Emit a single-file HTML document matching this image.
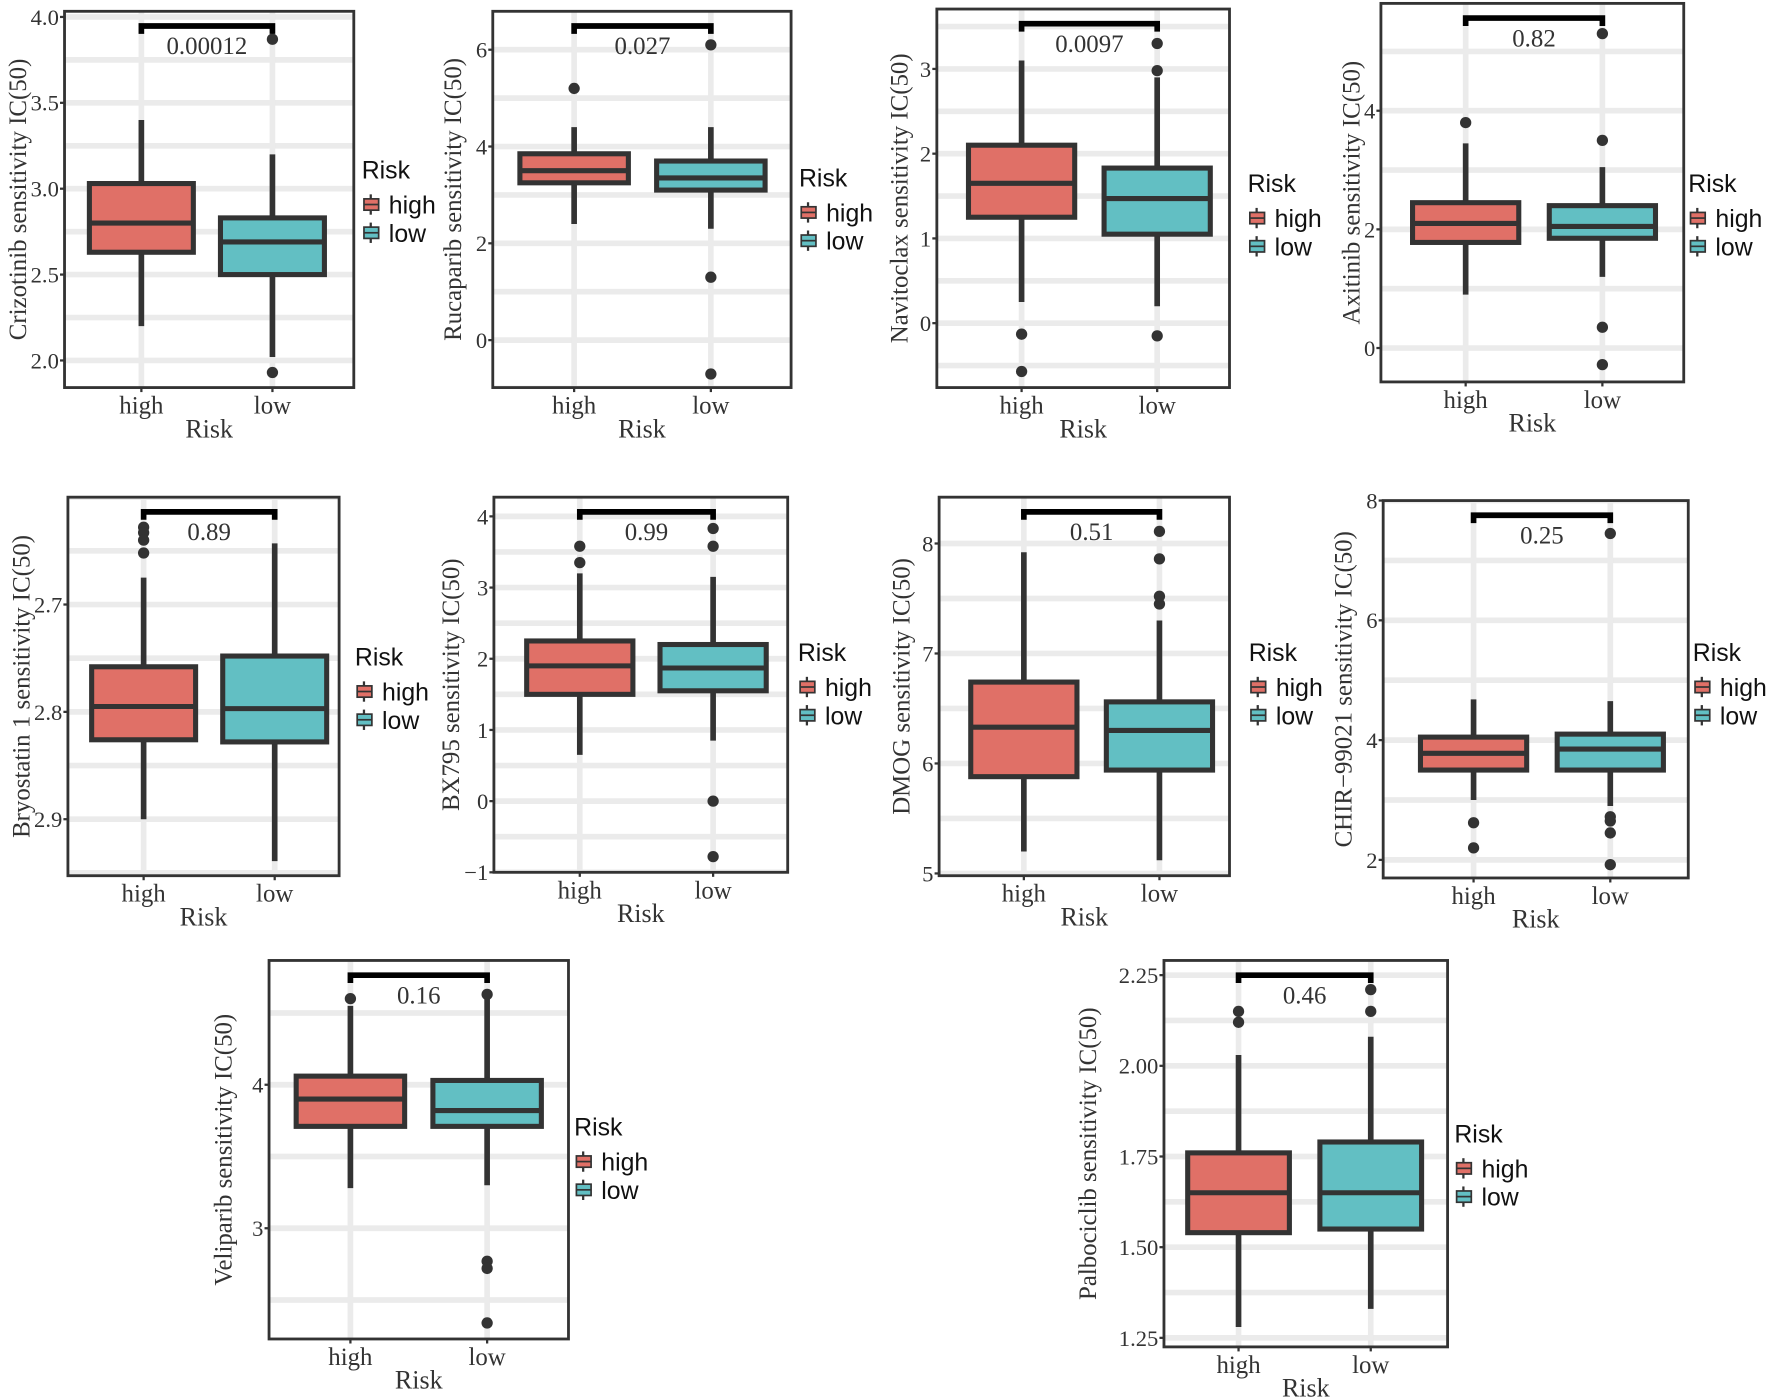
<!DOCTYPE html>
<html><head><meta charset="utf-8">
<style>
html,body{margin:0;padding:0;background:#fff;}
svg{display:block;}
.ax{font-family:"Liberation Serif",serif;fill:#333;}
.lg{font-family:"Liberation Sans",sans-serif;fill:#111;}
</style></head>
<body>
<svg id="fig" width="1772" height="1400" viewBox="0 0 1568 1239" xmlns="http://www.w3.org/2000/svg"></svg>
<script>
// ---- data (one small array set per panel) ----
const drugNames = ["Crizotinib","Rucaparib","Navitoclax","Axitinib","Bryostatin 1","BX795","DMOG","CHIR\u221299021","Veliparib","Palbociclib"];
const pValues = ["0.00012","0.027","0.0097","0.82","0.89","0.99","0.51","0.25","0.16","0.46"];
const groups = ["high","low"];
// [whiskerLow, q1, median, q3, whiskerHigh]
const highStats = [
 [2.2,2.63,2.8,3.03,3.4],
 [2.4,3.25,3.5,3.85,4.4],
 [0.25,1.25,1.65,2.1,3.1],
 [0.9,1.78,2.1,2.45,3.45],
 [2.675,2.758,2.795,2.826,2.9],
 [0.65,1.5,1.9,2.25,3.2],
 [5.2,5.88,6.33,6.74,7.92],
 [3.0,3.5,3.78,4.05,4.68],
 [3.28,3.71,3.9,4.06,4.55],
 [1.28,1.54,1.65,1.76,2.03]
];
const lowStats = [
 [2.02,2.5,2.69,2.83,3.2],
 [2.3,3.1,3.35,3.7,4.4],
 [0.2,1.05,1.47,1.83,2.9],
 [1.2,1.85,2.05,2.4,3.05],
 [2.643,2.748,2.797,2.828,2.939],
 [0.85,1.55,1.87,2.2,3.15],
 [5.12,5.94,6.3,6.56,7.3],
 [2.9,3.5,3.85,4.1,4.65],
 [3.3,3.71,3.82,4.03,4.62],
 [1.33,1.55,1.65,1.79,2.08]
];
const highOutliers = [[],[5.2],[-0.13,-0.57],[3.8],[2.628,2.633,2.64,2.652],[3.35,3.58],[],[2.62,2.2],[4.6],[2.12,2.15]];
const lowOutliers = [[1.93,3.87],[1.3,-0.7,6.1],[2.98,-0.15,3.3],[3.5,0.35,-0.28,5.3],[],[3.58,3.83,0,-0.78],[7.45,7.52,7.86,8.11],[2.72,2.65,2.45,1.92,7.45],[2.77,2.72,2.34,4.63],[2.15,2.21]];
const tickValues = [
 [2.0,2.5,3.0,3.5,4.0],[0,2,4,6],[0,1,2,3],[0,2,4],[2.7,2.8,2.9],
 [-1,0,1,2,3,4],[5,6,7,8],[2,4,6,8],[3,4],[1.25,1.5,1.75,2.0,2.25]
];
const tickLabels = [
 ["2.0","2.5","3.0","3.5","4.0"],["0","2","4","6"],["0","1","2","3"],["0","2","4"],["2.7","2.8","2.9"],
 ["\u22121","0","1","2","3","4"],["5","6","7","8"],["2","4","6","8"],["3","4"],["1.25","1.50","1.75","2.00","2.25"]
];
// ---- layout (pixel geometry, not data) ----
const layout = [
 {x0:57,y0:10,x1:313,y1:343,gx:[125,241],s:[2.0,319,4.0,15],yt:15,lg:[320,150],bw:92},
 {x0:436,y0:10,x1:700,y1:343,gx:[508,629],s:[0,301,6,44],yt:400,lg:[707,157],bw:96},
 {x0:829,y0:8,x1:1088,y1:343,gx:[904,1024],s:[0,286,3,61],yt:795,lg:[1104,162],bw:94},
 {x0:1222,y0:3,x1:1490,y1:338,gx:[1297,1418],s:[0,308,4,98],yt:1195,lg:[1494,162],bw:94},
 {x0:60,y0:440,x1:300,y1:775,gx:[127,243],s:[2.7,535,2.9,725],yt:18,lg:[314,581],bw:92},
 {x0:437,y0:440,x1:697,y1:772,gx:[513,631],s:[0,709,4,457],yt:398,lg:[706,577],bw:94},
 {x0:831,y0:440,x1:1088,y1:775,gx:[906,1026],s:[5,773,8,481],yt:797,lg:[1105,577],bw:94},
 {x0:1224,y0:443,x1:1494,y1:777,gx:[1304,1425],s:[2,761,8,443],yt:1188,lg:[1498,577],bw:94},
 {x0:238,y0:850,x1:503,y1:1185,gx:[310,431],s:[3,1087,4,960],yt:197,lg:[508,997],bw:96},
 {x0:1030,y0:850,x1:1281,y1:1192,gx:[1096,1213],s:[1.25,1184,2.25,863],yt:962,lg:[1287,1003],bw:90}
];
const fills = {high:"#E07067",low:"#62BFC3"};
const NS = "http://www.w3.org/2000/svg";
const svg = document.getElementById("fig");
function mk(tag, attrs, parent, text){
  const e = document.createElementNS(NS, tag);
  for (const k in attrs) e.setAttribute(k, attrs[k]);
  if (text !== undefined) e.textContent = text;
  parent.appendChild(e);
  return e;
}
drugNames.forEach((drug, i) => {
  const L = layout[i];
  const yScale = v => L.s[1] + (v - L.s[0]) * (L.s[3] - L.s[1]) / (L.s[2] - L.s[0]);
  const g = mk("g", {}, svg);
  
  
  const clipId = "clip" + i;
  const cp = mk("clipPath", {id: clipId}, g);
  mk("rect", {x:L.x0, y:L.y0, width:L.x1-L.x0, height:L.y1-L.y0}, cp);
  const grid = mk("g", {"clip-path": "url(#" + clipId + ")"}, g);
  
  
  const tv = tickValues[i];
  const step = tv[1] - tv[0];
  for (let v = tv[0] - step; v <= tv[tv.length-1] + step + 1e-9; v += step/2) {
    const y = yScale(v);
    mk("line", {x1:L.x0, x2:L.x1, y1:y, y2:y, stroke:"#ebebeb", "stroke-width":5}, grid);
  }
  L.gx.forEach(x => mk("line", {x1:x, x2:x, y1:L.y0, y2:L.y1, stroke:"#ebebeb", "stroke-width":5}, grid));
  // boxes
  [highStats[i], lowStats[i]].forEach((st, j) => {
    const grp = groups[j];
    const x = L.gx[j], bw = L.bw;
    const b = mk("g", {}, g);
    
    
    mk("line", {x1:x, x2:x, y1:yScale(st[0]), y2:yScale(st[4]), stroke:"#333", "stroke-width":5}, b);
    const yA = yScale(st[1]), yB = yScale(st[3]);
    mk("rect", {x:x-bw/2, y:Math.min(yA,yB), width:bw, height:Math.abs(yA-yB), fill:fills[grp], stroke:"#333", "stroke-width":4.5}, b);
    const ym = yScale(st[2]);
    mk("line", {x1:x-bw/2, x2:x+bw/2, y1:ym, y2:ym, stroke:"#333", "stroke-width":4.5}, b);
    const outs = j === 0 ? highOutliers[i] : lowOutliers[i];
    outs.forEach(v => {
      const c = mk("circle", {cx:x, cy:yScale(v), r:5, fill:"#333"}, b);
      
      
    });
  });
  // border
  mk("rect", {x:L.x0, y:L.y0, width:L.x1-L.x0, height:L.y1-L.y0, fill:"none", stroke:"#333", "stroke-width":2.5}, g);
  // significance bracket
  const by = L.y0 + 13;
  const br = mk("path", {d:`M${L.gx[0]},${by+7}V${by}H${L.gx[1]}V${by+7}`, fill:"none", stroke:"#000", "stroke-width":5}, g);
  
  
  const pt = mk("text", {x:(L.gx[0]+L.gx[1])/2, y:by+25, "text-anchor":"middle", "font-size":22, class:"ax"}, g, pValues[i]);
  
  
  // y ticks
  tv.forEach((v, k) => {
    const y = yScale(v);
    mk("line", {x1:L.x0-4, x2:L.x0, y1:y, y2:y, stroke:"#333", "stroke-width":2}, g);
    const t = mk("text", {x:L.x0-5, y:y+7, "text-anchor":"end", "font-size":20, class:"ax"}, g, tickLabels[i][k]);
    
    
  });
  // x ticks
  L.gx.forEach((x, j) => {
    mk("line", {x1:x, x2:x, y1:L.y1, y2:L.y1+4, stroke:"#333", "stroke-width":2}, g);
    const t = mk("text", {x:x, y:L.y1+23, "text-anchor":"middle", "font-size":22, class:"ax"}, g, groups[j]);
    
    
  });
  const xt = mk("text", {x:(L.x0+L.x1)/2, y:L.y1+44, "text-anchor":"middle", "font-size":23, class:"ax", fill:"#000"}, g, "Risk");
  
  
  const cy = (L.y0+L.y1)/2;
  const yt = mk("text", {x:L.yt, y:cy, "text-anchor":"middle", "font-size":22, class:"ax", fill:"#000", transform:`rotate(-90 ${L.yt} ${cy}) translate(0 8)`}, g, drug + " sensitivity IC(50)");
  
  
  // legend
  const lg = mk("g", {}, g);
  
  
  const [lx, ly] = L.lg;
  mk("text", {x:lx, y:ly+8, "font-size":22, class:"lg"}, lg, "Risk");
  groups.forEach((grp, j) => {
    const ky = ly + 31 + j*25;
    const e = mk("g", {}, lg);
    
    
    mk("line", {x1:lx+8, x2:lx+8, y1:ky-9, y2:ky+9, stroke:"#333", "stroke-width":2}, e);
    mk("rect", {x:lx+2, y:ky-5, width:13, height:10, fill:fills[grp], stroke:"#333", "stroke-width":1.5}, e);
    mk("line", {x1:lx+2, x2:lx+15, y1:ky, y2:ky, stroke:"#333", "stroke-width":1.5}, e);
    mk("text", {x:lx+24, y:ky+8, "font-size":22, class:"lg"}, e, grp);
  });
});
</script>
</body></html>
